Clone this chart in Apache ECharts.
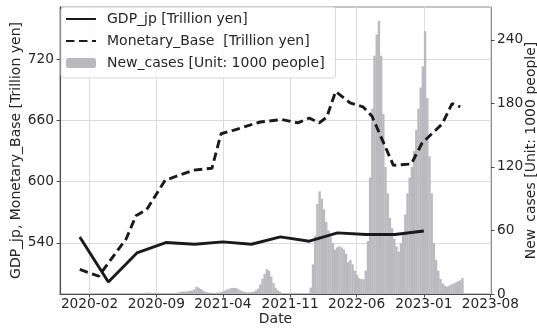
<!DOCTYPE html>
<html>
<head>
<meta charset="utf-8">
<script src="https://cdn.jsdelivr.net/npm/echarts@6/dist/echarts.min.js"></script>
<style>
  html, body { margin: 0; padding: 0; background: #ffffff; }
  #chart { width: 537px; height: 330px; }
</style>
</head>
<body>
<div id="chart"></div>
<script>
// Tick positions
const xTickDates = ['2020-02-01', '2020-09-01', '2021-04-01', '2021-11-01', '2022-06-01', '2023-01-01', '2023-08-01'];
const leftTicks = [540, 600, 660, 720];
const rightTicks = [0, 60, 120, 180, 240];

// Quarterly nominal GDP [trillion yen]
const gdpDates = ['2020-01-01', '2020-04-01', '2020-07-01', '2020-10-01', '2021-01-01', '2021-04-01',
  '2021-07-01', '2021-10-01', '2022-01-01', '2022-04-01', '2022-07-01', '2022-10-01', '2023-01-01'];
const gdpValues = [545.9, 501.8, 530.2, 540.4, 538.7, 541.0, 538.7, 545.9, 541.7, 549.8, 548.2, 548.2, 551.7];

// Monetary base [trillion yen]
const baseDates = ['2020-01-01', '2020-03-01', '2020-05-28', '2020-06-28', '2020-08-01', '2020-09-29',
  '2020-12-28', '2021-02-25', '2021-03-26', '2021-05-04', '2021-07-29', '2021-10-07', '2021-11-26',
  '2022-01-01', '2022-02-02', '2022-02-26', '2022-03-26', '2022-05-11', '2022-06-21', '2022-07-20',
  '2022-09-26', '2022-11-22', '2022-12-26', '2023-03-01', '2023-04-01', '2023-04-27'];
const baseValues = [514.0, 507.4, 544.1, 566.6, 572.5, 601.4, 611.2, 613.1, 646.9, 650.3, 658.4, 660.8,
  657.5, 662.3, 657.5, 663.3, 688.3, 677.2, 673.3, 664.0, 616.0, 617.3, 637.6, 656.7, 676.4, 673.3];

// New cases [1000 people], one value per week, weeks centred on Thursdays
const casesFirstWeek = '2020-01-16';
const newCases = [
  0.01, 0.01, 0.01, 0.01, 0.01, 0.02, 0.02, 0.04, 0.05, 0.04, 0.1,
  0.25, 0.5, 0.5, 0.35, 0.2, 0.1, 0.05, 0.03, 0.04,
  0.04, 0.05, 0.06, 0.1, 0.2, 0.3, 0.5, 0.8, 1.2,
  1.4, 1.2, 1.0, 0.8, 0.6, 0.55, 0.5, 0.5,
  0.5, 0.6, 0.6, 0.6, 0.8, 1.0, 1.5, 2.2, 2.2,
  2.3, 2.6, 3.0, 3.4, 4.5,
  7.0, 6.0, 4.8, 3.2, 2.2, 1.5, 1.2, 1.1,
  1.0, 1.2, 1.3, 1.7, 2.3, 3.2, 4.2, 5.0, 5.6,
  5.8, 5.6, 4.5, 3.3, 2.4, 1.8, 1.5, 1.6,
  1.8, 2.3, 3.5, 5.0, 9.0, 14.5, 19.0, 23.5, 22.0,
  16.5, 10.5, 6.0, 3.5, 2.0, 1.0, 0.6, 0.4, 0.3,
  0.2, 0.18, 0.15, 0.12, 0.12, 0.15, 0.2, 0.3, 0.6,
  6, 28, 55, 85, 97, 90, 80, 68,
  60, 54, 48, 42, 44, 45, 44, 42, 38,
  30, 32, 28, 22, 18, 15, 14, 14, 22,
  50, 110, 175, 225, 245, 258, 225, 170, 120,
  95, 72, 62, 52, 45, 40, 48, 58, 75,
  95, 110, 120, 135, 155, 175, 195, 215, 248,
  185, 130, 95, 48, 32, 22, 14, 10, 8,
  7, 8, 9, 10, 11, 12, 13, 15
];

const FONT = 'DejaVu Sans';
const TEXT = '#262626';
const DAY = 86400000;

function toTime(s) {
  const p = s.split('-').map(Number);
  return new Date(p[0], p[1] - 1, p[2] || 1).getTime();
}
function fmtMonth(v) {
  const d = new Date(v);
  return d.getFullYear() + '-' + String(d.getMonth() + 1).padStart(2, '0');
}

const xTicks = xTickDates.map(toTime);
const gdpData = gdpDates.map((d, i) => [toTime(d), gdpValues[i]]);
const baseData = baseDates.map((d, i) => [toTime(d), baseValues[i]]);
const caseStart = toTime(casesFirstWeek);
const caseData = newCases.map((v, i) => [caseStart + i * 7 * DAY, v]);

const chart = echarts.init(document.getElementById('chart'), null, { renderer: 'canvas' });

chart.setOption({
  animation: false,
  backgroundColor: '#ffffff',
  textStyle: { fontFamily: FONT },
  grid: {
    left: 60, right: 46, top: 7, bottom: 36,
    show: true, borderColor: '#8c8c8c', borderWidth: 1,
    backgroundColor: 'transparent',
    outerBoundsMode: 'none'
  },
  legend: {
    data: [
      { name: 'GDP_jp [Trillion yen]', itemStyle: { opacity: 0 } },
      { name: 'Monetary_Base  [Trillion yen]', itemStyle: { opacity: 0 } },
      { name: 'New_cases [Unit: 1000 people]' }
    ],
    orient: 'vertical',
    left: 61, top: 7,
    padding: [5, 11, 8, 4],
    itemGap: 8,
    itemWidth: 30, itemHeight: 10,
    backgroundColor: 'rgba(255,255,255,0.85)',
    borderColor: '#d6d6d6', borderWidth: 1, borderRadius: 3,
    textStyle: { fontFamily: FONT, fontSize: 14, color: TEXT, padding: [0, 0, 0, 6] }
  },
  xAxis: {
    type: 'value',
    min: toTime('2019-10-30'),
    max: toTime('2023-08-03'),
    name: 'Date',
    nameLocation: 'middle',
    nameGap: 18,
    nameMoveOverlap: false,
    nameTextStyle: { fontFamily: FONT, fontSize: 14, color: TEXT },
    axisLine: { show: true, onZero: false, lineStyle: { color: '#4d4d4d', width: 1.1 } },
    axisTick: { show: true, length: 3.5, customValues: xTicks, lineStyle: { color: '#4d4d4d' } },
    axisLabel: { customValues: xTicks, formatter: fmtMonth, margin: 3, fontFamily: FONT, fontSize: 13.7, color: TEXT, hideOverlap: false },
    splitLine: { show: true, lineStyle: { color: '#dcdcdc', width: 1 } }
  },
  yAxis: [
    {
      type: 'value',
      position: 'left',
      min: 490, max: 771,
      name: 'GDP_jp, Monetary_Base [Trillion yen]',
      nameLocation: 'middle',
      nameRotate: 90,
      nameGap: 37,
      nameMoveOverlap: false,
      nameTextStyle: { fontFamily: FONT, fontSize: 14, color: TEXT },
      axisLine: { show: true, onZero: false, lineStyle: { color: '#4d4d4d', width: 1.1 } },
      axisTick: { show: true, length: 3.5, customValues: leftTicks, lineStyle: { color: '#4d4d4d' } },
      axisLabel: { customValues: leftTicks, margin: 6, fontFamily: FONT, fontSize: 13.7, color: TEXT },
      splitLine: { show: true, lineStyle: { color: '#dcdcdc', width: 1 } }
    },
    {
      type: 'value',
      position: 'right',
      min: 0, max: 271,
      name: 'New_cases [Unit: 1000 people]',
      nameLocation: 'middle',
      nameRotate: 90,
      nameGap: 33,
      nameMoveOverlap: false,
      nameTextStyle: { fontFamily: FONT, fontSize: 14, color: TEXT },
      axisLine: { show: true, onZero: false, lineStyle: { color: '#8c8c8c', width: 1 } },
      axisTick: { show: true, length: 3.5, customValues: rightTicks, lineStyle: { color: '#4d4d4d' } },
      axisLabel: { customValues: rightTicks, margin: 6, fontFamily: FONT, fontSize: 13.7, color: TEXT },
      splitLine: { show: false }
    }
  ],
  series: [
    {
      name: 'GDP_jp [Trillion yen]',
      type: 'line',
      yAxisIndex: 0,
      data: gdpData,
      showSymbol: false, symbol: 'none',
      z: 4,
      color: '#1a1a1a',
      lineStyle: { color: '#1a1a1a', width: 2.9 }
    },
    {
      name: 'Monetary_Base  [Trillion yen]',
      type: 'line',
      yAxisIndex: 0,
      data: baseData,
      showSymbol: false, symbol: 'none',
      z: 4,
      color: '#1a1a1a',
      lineStyle: { color: '#1a1a1a', width: 2.9, type: [8.5, 4.5] }
    },
    {
      name: 'New_cases [Unit: 1000 people]',
      type: 'bar',
      yAxisIndex: 1,
      data: caseData,
      barWidth: 2.4,
      z: 2,
      color: '#bababe',
      itemStyle: { color: '#bababe' }
    }
  ]
});
</script>
</body>
</html>
